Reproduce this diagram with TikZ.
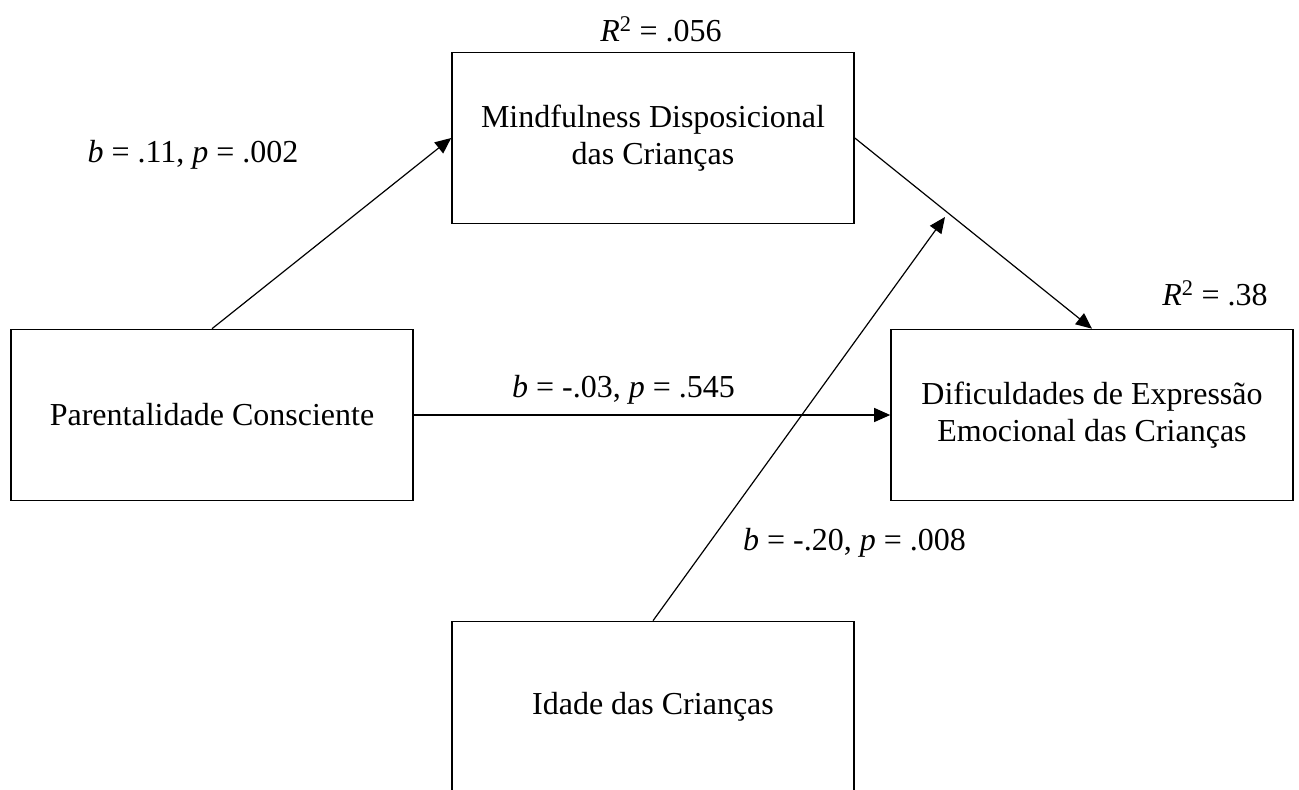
\documentclass[tikz,border=0pt]{standalone}
\usepackage{fontspec}
\setmainfont{Liberation Serif}
\usetikzlibrary{arrows.meta,calc}
\begin{document}
\begin{tikzpicture}[x=1pt,y=-1pt,
  box/.style={draw,line width=1.6pt,minimum width=402pt,minimum height=171pt,
    align=center,inner sep=0pt,font=\fontsize{32}{36.8}\selectfont},
  conn/.style={line width=1.2pt,-{Triangle[length=16pt,width=14pt]}},
  lab/.style={anchor=base,inner sep=0pt,font=\fontsize{32}{36.8}\selectfont}]
\useasboundingbox (0,0) rectangle (1299,790);
\clip (0,0) rectangle (1299,790);
\node[box] (mind) at (653,138) {Mindfulness Disposicional\\das Crianças};
\node[box] (par) at (212,415) {Parentalidade Consciente};
\node[box] (dif) at (1092,415) {Dificuldades de Expressão\\Emocional das Crianças};
\node[box] (idade) at (653,707) {Idade das Crianças};
\coordinate (tgt) at (945,217);
\draw[conn] (par.north) -- (mind.west);
\draw[conn] (mind.east) -- (dif.north);
\draw[conn] (par.east) -- (dif.west);
\draw[conn] (idade.north) -- (tgt);
\node[lab] (l1) at (193,162) {\textit{b} = .11, \textit{p} = .002};
\node[lab] (r1) at (661,41) {\textit{R}\textsuperscript{2} = .056};
\node[lab] (r2) at (1215,305) {\textit{R}\textsuperscript{2} = .38};
\node[lab] (l2) at (623.5,397) {\textit{b} = -.03, \textit{p} = .545};
\node[lab] (l3) at (854.5,550) {\textit{b} = -.20, \textit{p} = .008};
\end{tikzpicture}
\end{document}
